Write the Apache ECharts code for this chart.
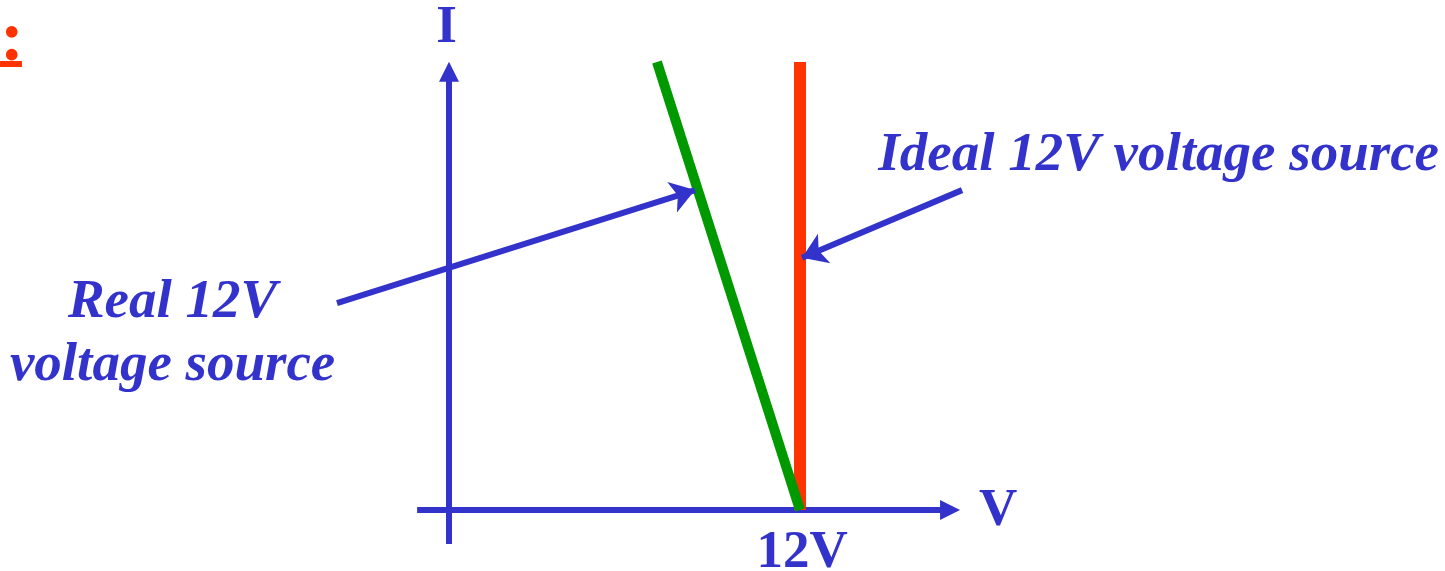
<!DOCTYPE html>
<html>
<head>
<meta charset="utf-8">
<title>Real vs ideal 12V voltage source</title>
<script src="https://cdn.jsdelivr.net/npm/echarts@6/dist/echarts.min.js"></script>
<style>
  html, body { margin: 0; padding: 0; background: #fff; }
  #chart { width: 1445px; height: 571px; }
</style>
</head>
<body>
<div id="chart"></div>
<script>
// V-I plane, V in volts, I in arbitrary units (10 = top of the drawn axis)
const axisV = [[-1.09, 0], [17.13, 0]];
const axisI = [[0, -0.76], [0, 9.78]];
const idealSource = [[12, 0], [12, 10]];
const realSource = [[12, 0], [7.11, 10]];
const idealPointer = [[17.54, 7.14], [12.07, 5.63]];
const realPointer = [[-3.83, 4.62], [8.41, 7.14]];
const headingRule = [[-15.35, 9.955], [-14.6, 9.955]];

const axisTitles = [
    [-0.085, 10.76, 'I'],
    [18.77, -0.02, 'V'],
    [12.07, -0.96, '12V']
];
const notes = [
    [24.26, 7.91, 'Ideal 12V voltage source'],
    [-9.45, 3.93, 'Real 12V\nvoltage source']
];
const heading = [[-14.94, 10.47, ':']];

const blue = '#3333CC';
const serif = '"Liberation Serif", "Times New Roman", serif';

const chart = echarts.init(document.getElementById('chart'));

const textSeries = (rows, label) => ({
    type: 'scatter',
    symbolSize: 0,
    silent: true,
    z: 5,
    itemStyle: { opacity: 1 },
    data: rows.map(r => ({ value: [r[0], r[1]], name: r[2] })),
    label: Object.assign({
        show: true,
        position: 'inside',
        formatter: '{b}',
        fontFamily: serif,
        fontWeight: 'bold',
        align: 'center',
        verticalAlign: 'middle',
        textBorderWidth: 0,
        textBorderColor: 'transparent'
    }, label)
});

const option = {
    animation: false,
    grid: { left: 0, right: 0, top: 0, bottom: 0 },
    xAxis: { type: 'value', min: -15.35, max: 34.05, show: false },
    yAxis: { type: 'value', min: -1.362, max: 11.384, show: false },
    series: [
        {
            type: 'lines',
            coordinateSystem: 'cartesian2d',
            silent: true,
            z: 1,
            symbol: ['none', 'triangle'],
            symbolSize: [18, 20],
            lineStyle: { color: blue, width: 6, opacity: 1, curveness: 0 },
            data: [{ coords: axisV }, { coords: axisI }]
        },
        {
            type: 'lines',
            coordinateSystem: 'cartesian2d',
            silent: true,
            z: 4,
            symbol: ['none', 'arrow'],
            symbolSize: [18, 24],
            lineStyle: { color: blue, width: 6, opacity: 1, curveness: 0 },
            data: [{ coords: idealPointer }, { coords: realPointer }]
        },
        {
            name: 'Ideal',
            type: 'line',
            z: 2,
            symbol: 'none',
            data: idealSource,
            lineStyle: { color: '#FF3300', width: 12, cap: 'butt' }
        },
        {
            name: 'Real',
            type: 'line',
            z: 3,
            symbol: 'none',
            data: realSource,
            lineStyle: { color: '#009900', width: 10, cap: 'butt' }
        },
        {
            type: 'line',
            z: 2,
            symbol: 'none',
            data: headingRule,
            lineStyle: { color: '#FF3300', width: 6, cap: 'butt' }
        },
        textSeries(axisTitles, { color: blue, fontSize: 53 }),
        textSeries(notes, { color: blue, fontSize: 55, fontStyle: 'italic', lineHeight: 63 }),
        textSeries(heading, { color: '#FF3300', fontSize: 72 })
    ]
};

chart.setOption(option);
</script>
</body>
</html>
